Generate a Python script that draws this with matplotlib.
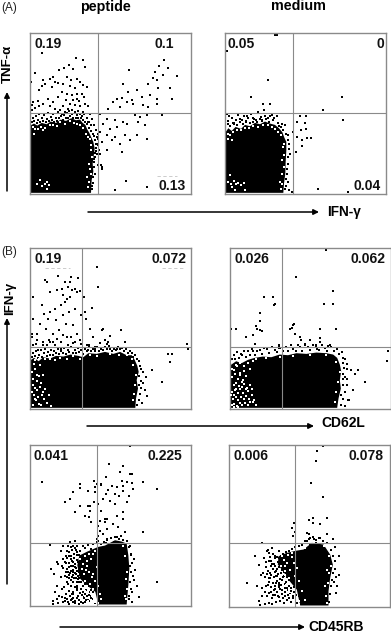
import matplotlib
matplotlib.use("Agg")
import matplotlib.pyplot as plt
from matplotlib.patches import Polygon, FancyArrowPatch

plt.rcParams['font.family'] = ['Liberation Sans', 'DejaVu Sans']
W, H = 391, 634

# Quadrant percentages
A_pep = ["0.19", "0.1", "0.13"]
A_med = ["0.05", "0", "0.04"]
B_pep = ["0.19", "0.072"]
B_med = ["0.026", "0.062"]
C_pep = ["0.041", "0.225"]
C_med = ["0.006", "0.078"]

# Dense populations: outlines (channels 0-483)
A_pep_blob = [(3,2),(3,205),(12,210),(22,204),(35,212),(50,208),(62,216),(78,212),(92,222),(108,218),(124,226),(138,220),(150,222),(158,212),(166,206),(172,192),(178,182),(184,168),(190,155),(194,135),(191,112),(188,90),(190,66),(185,40),(183,2)]
A_med_blob = [(3,2),(3,186),(10,196),(20,188),(32,200),(48,194),(60,206),(75,202),(90,212),(105,208),(120,216),(135,210),(150,206),(162,196),(172,184),(178,168),(184,155),(184,130),(182,95),(181,60),(177,30),(175,2)]
B_pep_blob = [(3,2),(3,146),(12,152),(26,142),(40,154),(60,150),(78,158),(100,156),(122,162),(145,158),(160,154),(175,166),(200,164),(225,170),(250,164),(270,170),(290,160),(305,160),(314,146),(322,128),(326,110),(320,85),(324,60),(318,30),(316,2)]
B_med_blob = [(3,2),(3,130),(20,142),(36,136),(55,146),(75,152),(100,156),(125,154),(150,162),(175,160),(200,166),(230,164),(260,168),(290,166),(310,162),(322,152),(330,132),(334,112),(330,85),(333,60),(326,30),(322,2)]
C_pep_blob = [(290,3),(205,3),(196,41),(170,61),(150,81),(142,121),(148,150),(172,162),(205,176),(225,180),(255,196),(275,192),(290,186),(295,151),(298,111),(295,61)]
C_med_blob = [(300,3),(215,3),(205,50),(184,75),(164,105),(148,125),(150,150),(175,160),(200,166),(225,170),(250,190),(285,185),(305,155),(313,125),(305,85),(300,45)]

# Individual events outside the dense populations (channels)
A_pep_pts = [(35,422),(138,407),(160,402),(165,380),(88,372),(102,378),(118,385),(130,375),(14,363),(60,345),(40,340),(35,322),(27,310),(45,330),(3,335),(70,350),(75,335),(65,320),(85,333),(110,350),(122,340),(140,345),(100,330),(120,322),(150,335),(135,318),(160,325),(170,320),(95,305),(112,300),(125,295),(140,298),(155,300),(163,290),(130,280),(140,285),(148,278),(108,280),(120,270),(100,262),(115,255),(135,265),(150,262),(165,270),(175,262),(85,290),(70,275),(55,285),(40,270),(25,278),(10,275),(5,265),(15,258),(5,250),(28,262),(60,262),(75,255),(90,250),(105,245),(125,250),(145,248),(160,245),(180,240),(185,225),(175,215),(192,205),(198,190),(203,180),(205,165),(200,150),(207,130),(212,85),(215,75),(202,120),(195,110),
 (402,402),(388,382),(415,377),(442,354),(298,372),(375,365),(370,348),(400,355),(380,340),(355,330),(385,318),(420,318),(278,330),(295,305),(320,310),(260,285),(275,287),(305,280),(335,290),(360,295),(380,285),(425,285),(248,275),(270,260),(290,275),(310,270),(340,265),(355,260),(380,270),(235,255),
 (210,240),(230,225),(255,220),(280,215),(315,235),(330,230),(350,235),(395,235),(220,210),(240,195),(260,200),(290,210),(325,215),(345,205),(210,185),(230,175),(255,170),(285,175),(320,175),(350,165),(215,155),(245,160),(270,150),(300,160),(200,170),(230,130),(275,125),(210,120),(205,85),(288,39),(255,12),(350,20),(215,80)]
A_pep_fringe = [(6,214),(9,226),(13,218),(17,232),(20,212),(25,222),(28,240),(31,216),(36,228),(40,219),(43,236),(47,214),(51,224),(55,242),(58,217),(62,230),(66,222),(70,238),(73,216),(77,228),(82,218),(85,244),(88,226),(92,233),(96,240),(99,222),(103,236),(107,226),(111,242),(114,226),(118,248),(121,232),(126,238),(130,228),(134,246),(137,226),(141,236),(145,228),(149,240),(152,226),(156,232),(160,222),(163,238),(166,216),(170,226),(172,208),(176,216),(178,198),(182,206),(184,188),(188,180),(192,172),(194,160),(197,150),(199,136),(196,122),(193,104),(191,80),(194,58),(190,32),(187,14),(186,24),(198,128),(203,145),(188,50),(192,94)]
A_med_pts = [(150,477),(155,477),(5,428),(130,342),(352,290),(293,250),(79,290),(113,270),(135,268),(225,232),(242,232),(355,220),(240,212),(215,215),(228,192),(242,195),(205,185),(215,170),(245,168),(258,167),(232,160),(232,143),(213,125),(278,13),(370,5),(202,5)]
A_med_fringe = [(5,240),(8,210),(12,232),(15,204),(20,226),(24,212),(28,208),(32,220),(36,206),(40,236),(44,214),(50,222),(54,208),(58,232),(64,214),(70,228),(74,212),(78,240),(84,216),(88,224),(92,222),(96,214),(100,245),(104,224),(108,230),(112,218),(118,252),(122,224),(128,226),(132,216),(136,232),(140,235),(144,220),(148,228),(155,232),(158,212),(162,204),(168,200),(172,210),(174,192),(180,205),(182,178),(188,175),(188,160),(192,150),(191,135),(195,120),(189,110),(190,90),(186,75),(186,60),(184,44),(190,35),(183,22),(192,10),(180,14),(10,218),(28,212),(45,224),(62,218),(85,228),(120,232),(66,232),(110,222)]
B_pep_pts = [(45,385),(50,380),(85,398),(122,395),(145,392),(105,380),(120,380),(60,350),(80,355),(95,360),(115,365),(125,355),(135,360),(150,352),(100,340),(110,330),(35,310),(10,335),(42,285),(60,290),(75,300),(92,310),(105,320),(120,335),(142,350),(10,270),(30,255),(55,270),(78,265),(98,280),(118,290),(135,300),(152,280),(20,225),(48,240),(68,225),(88,235),(108,255),(128,250),(5,225),(22,205),(40,190),(60,200),(82,210),(100,220),(122,215),(140,225),(5,215),(18,195),(38,200),(58,205),(75,190),(92,200),(112,215),(130,198),(150,205),(8,190),(25,175),(50,190),(70,200),(92,178),(115,190),(135,200),(152,195),
 (203,365),(185,302),(162,335),(165,290),(168,270),(180,240),(218,240),(240,218),(190,215),(215,235),(225,205),(235,200),(170,190),(175,175),(195,185),(230,195),(262,178),(285,200),(272,235),(200,425),(178,190),(210,197),(240,178),(195,180),(470,195),(475,180),(415,165),(425,165),(420,140),(365,115),(395,80)]
B_pep_fringe = [(6,156),(10,166),(14,158),(18,172),(23,152),(28,162),(32,176),(36,156),(41,166),(46,180),(50,158),(54,170),(60,160),(64,176),(68,162),(73,172),(78,166),(83,180),(88,164),(93,174),(98,168),(103,182),(108,164),(113,176),(118,170),(124,184),(128,168),(134,176),(138,166),(144,182),(148,170),(154,176),(160,164),(165,180),(170,172),(176,184),(182,172),(188,180),(194,174),(200,186),(206,174),(212,180),(220,176),(226,184),(232,178),(238,188),(246,172),(252,180),(258,176),(264,186),(270,178),(276,182),(282,172),(288,180),(294,168),(300,174),(306,166),(310,156),(316,160),(320,148),(326,142),(330,128),(334,118),(328,98),(332,84),(327,72),(334,62),(330,44),(326,26),(322,12),(340,110),(338,78),(345,55),(348,95),(352,38),(335,18)]
B_med_pts = [(290,476),(200,394),(130,334),(283,315),(102,335),(135,315),(92,288),(132,310),(191,252),(310,354),(310,315),(92,262),(82,240),(80,248),(320,240),(192,255),(270,212),(272,238),(181,238),(186,242),(260,185),(262,180),(90,235),(70,222),(50,215),(20,238),(96,232),(75,194),(148,192),(148,182),(195,225),(210,215),(215,205),(225,195),(240,205),(270,200),(295,188),(475,172),(472,144),(385,115),(405,80),(5,238)]
B_med_fringe = [(6,148),(12,160),(16,148),(22,170),(28,152),(34,164),(38,160),(44,174),(48,156),(54,172),(60,162),(66,178),(70,174),(76,160),(82,172),(90,176),(96,164),(104,182),(112,178),(118,166),(126,184),(135,176),(142,170),(148,186),(152,182),(160,172),(168,186),(176,172),(184,190),(190,180),(198,174),(204,192),(210,184),(218,174),(226,190),(235,186),(242,176),(250,192),(260,190),(268,176),(276,192),(285,182),(292,174),(300,190),(305,186),(312,172),(322,180),(326,164),(336,170),(338,152),(345,150),(340,138),(350,135),(342,122),(352,120),(340,105),(346,95),(338,88),(350,70),(340,72),(344,50),(334,42),(358,25),(362,115),(352,90),(338,28),(355,25),(332,12),(345,8),(370,55),(376,105)]
C_pep_pts = [(240,482),(238,425),(150,365),(175,345),(192,375),(212,365),(228,385),(245,360),(262,355),(276,375),(290,370),(150,300),(175,300),(193,310),(205,305),(218,320),(228,335),(240,315),(256,305),(268,330),(280,345),(135,280),(165,270),(180,285),(214,285),(210,255),(225,260),(260,270),(182,250),(176,265),(203,240),(210,225),(230,230),(250,245),(265,235),(280,260),(200,200),(205,210),(220,215),(232,200),(262,205),(285,220),(205,195),(228,188),(252,190),(272,210),(292,195),(180,300),(195,340),(212,362),(235,348),(255,335),(280,360),
 (300,395),(305,395),(298,330),(292,310),(280,280),(200,365),(305,368),(310,350),(340,370),(380,350),(150,352),(35,372),(195,355),(120,320),(130,340),(105,312),(300,480),(280,420),(270,400),(225,250),(232,260),(340,222),(380,70),(300,120),(302,155),(298,20),(305,40),(308,90),(300,180)]
C_pep_speckle = [(62,110),(72,95),(85,125),(92,85),(100,140),(108,100),(118,115),(130,130),(140,105),(82,60),(95,50),(110,70),(125,85),(138,95),(150,120),(75,40),(88,30),(102,55),(115,65),(130,40),(145,80),(70,15),(80,20),(95,25),(108,35),(125,20),(140,60),(155,100),(68,5),(85,8),(100,10),(118,5),(135,15),(92,165),(108,150),(122,175),(140,160),(155,140),(96,120),(115,100),(130,35),(148,70),(110,85),(125,35),(142,52),(82,130),(100,180),(120,190),(135,195),(60,182),
 (105,130),(112,142),(118,128),(124,150),(128,118),(132,142),(136,125),(141,152),(144,132),(148,108),(150,92),(146,100),(138,112),(130,100),(122,104),(116,92),(124,76),(132,82),(140,70),(148,84),(154,72),(158,60),(164,66),(152,50),(160,40),(168,48),(176,42),(184,30),(172,28),(162,22),(152,12),(144,30),(136,8),(128,12),(120,28),(112,20),(106,15),(146,18),(156,32),(166,10),(178,14),(190,20),(196,8),(205,16),(182,46),(192,52),(174,58),(166,76),(158,92),(112,165),(118,160),(126,168),(134,172),(142,178),(150,165),(158,178),(166,172),(174,182),(182,170),(190,186),(200,190),(212,186),(222,192),(232,196),(242,202),(256,206),(268,200),(280,196),(292,194),(298,176),(302,152),(306,128),(304,100),(300,72),(302,50),(298,30),(305,12),(312,140),(316,108),(312,78),(322,60),(328,25),
 (126,134),(134,116),(122,118),(128,108),(136,98),(144,90),(138,84),(130,92),(118,84),(124,60),(134,56),(142,46),(150,38),(158,26),(166,34),(174,18),(182,22),(188,40),(176,32),(168,16),(158,8),(148,6),(140,22),(130,24),(122,16),(114,10),(104,24),(116,44),(128,70),(140,138),(132,156),(124,140),(116,148),(108,128),(112,110),(106,90),(100,112),(120,98),(152,136),(146,152),(138,166),(128,178),(114,178)]
C_med_pts = [(283,478),(265,465),(262,435),(247,369),(282,328),(252,250),(252,265),(295,265),(262,185),(240,258),(196,250),(190,235),(194,210),(198,222),(245,205),(240,215),(255,202),(235,195),(295,215),(270,205),(262,190),(275,245),(235,220),(332,150),(332,95),(325,60),(322,40),(318,178),(312,200)]
C_med_speckle = [(55,70),(80,150),(105,145),(118,105),(90,125),(112,118),(128,120),(138,150),(96,95),(120,135),(142,90),(85,60),(102,100),(122,85),(142,70),(160,110),(100,30),(118,65),(135,50),(152,70),(168,55),(92,15),(108,8),(130,25),(148,30),(165,10),(178,35),(100,55),(120,40),(140,120),(158,150),(115,165),(130,175),(150,145),(100,190),(122,160),(142,105),(95,5),(165,90),(175,125),(140,145),(150,165),(118,170),
 (124,100),(132,112),(136,88),(144,112),(148,98),(152,118),(156,100),(162,88),(154,82),(146,76),(138,62),(128,58),(120,74),(112,62),(108,44),(116,30),(126,44),(134,34),(144,44),(154,52),(160,36),(170,44),(176,56),(182,62),(188,46),(194,32),(198,18),(186,14),(174,20),(164,24),(154,16),(142,14),(130,8),(120,10),(206,10),(212,30),(204,62),(196,58),(190,72),(180,80),(172,72),(166,104),(158,130),(148,132),(136,128),(126,136),(162,158),(172,162),(180,166),(190,172),(200,178),(210,180),(220,184),(228,196),(240,200),(252,206),(262,198),(274,204),(284,196),(296,190),(306,170),(312,150),(318,136),(320,112),(312,100),(310,78),(306,60),(304,36),(302,14),(322,88),(316,72),(230,172),(244,186),
 (128,94),(138,102),(146,90),(152,64),(160,78),(168,66),(178,48),(184,36),(192,24),(180,26),(170,32),(160,48),(150,58),(140,52),(132,70),(124,84),(116,96),(110,88),(130,128),(144,148),(134,156),(124,148),(112,134),(150,28),(140,34),(202,34),(196,44),(186,56),(176,88),(158,64)]

# Gaps seen through the dense populations (channels)
A_pep_gaps = [(45,28),(50,35),(52,15),(12,180),(25,195),(38,190),(60,205),(90,214),(120,218),(140,210),(168,180),(180,165),(184,130),(178,90),(172,50),(175,20),(183,60),(30,40),(36,22),(22,30),(58,25),(8,200),(16,194),(32,200),(46,196),(70,206),(82,204),(104,208),(132,212),(150,206),(160,196),(174,170),(182,145),(186,110),(180,75),(178,35)]
A_med_gaps = [(10,35),(18,28),(26,38),(32,30),(22,20),(40,32),(48,25),(58,32),(14,55),(30,12),(60,12),(10,180),(25,185),(48,190),(72,198),(100,200),(130,205),(150,195),(168,175),(175,140),(170,100),(172,60),(165,35),(168,15),(15,175),(35,190),(60,196),(85,202),(115,205),(142,200),(160,185),(178,150),(178,115),(176,80),(172,30),(8,165),(20,160)]
B_pep_gaps = [(8,70),(15,62),(22,55),(30,65),(38,50),(45,58),(12,42),(25,35),(35,42),(18,25),(28,15),(8,12),(42,28),(50,18),(10,90),(20,82),(32,78),(6,110),(16,120),(26,98),(38,100),(12,135),(60,148),(90,152),(130,158),(180,162),(240,165),(290,160),(310,130),(318,100),(315,70),(308,25),(62,8),(30,130),(14,145),(26,150),(44,148),(75,146),(110,150),(150,148),(200,158),(268,160),(306,150),(312,45),(6,50),(14,30),(20,100),(34,10),(58,40)]
B_med_gaps = [(6,10),(14,14),(22,8),(30,16),(38,10),(46,18),(54,12),(62,20),(10,28),(18,34),(26,26),(34,36),(42,28),(50,38),(58,30),(8,50),(16,56),(24,46),(32,58),(40,48),(48,60),(56,52),(12,72),(20,78),(28,68),(36,80),(44,74),(52,62),(60,70),(8,95),(16,104),(24,90),(32,100),(40,86),(6,120),(14,115),(22,128),(30,108),(70,20),(8,140),(18,132),(30,136),(42,128),(56,138),(80,148),(110,152),(150,155),(190,158),(240,160),(290,162),(320,140),(330,110),(325,80),(320,50),(316,20),(50,98),(66,42),(72,25),(14,5),(26,5),(4,40),(12,42),(20,60),(38,66),(66,58),(78,10),(44,112),(60,120),(70,142)]
C_pep_gaps = [(155,110),(162,95),(170,120),(178,100),(185,85),(165,75),(172,60),(160,125),(180,65),(190,50),(175,40),(150,140),(165,150),(182,140),(192,20),(196,10),(185,30),(175,15),(165,45),(155,25),(190,155),(196,165),(204,8),(212,20),(170,135),(160,160),(285,150),(292,100),(290,50),(288,20),(280,180),(190,95),(196,75),(205,60),(210,35),(200,115),(178,155),(168,108),(288,80),(285,30)]
C_med_gaps = [(158,120),(170,105),(180,85),(165,140),(175,130),(185,110),(190,60),(172,65),(160,150),(178,155),(195,20),(185,35),(180,50),(170,120),(200,170),(210,8),(168,95),(190,160),(300,150),(296,110),(298,70),(292,30),(302,100),(285,180),(210,15),(228,175),(190,148),(200,90),(212,75),(220,45),(230,20),(195,130),(205,115),(290,60),(306,120),(296,10)]

panels = [
    (30.0, 33, 161, 160.5, 203, 243, A_pep, (14,448), (374,448), (385,24), A_pep_blob, A_pep_pts, A_pep_fringe, A_pep_gaps),
    (225.0, 33, 161, 160.5, 203, 243, A_med, (8,448), (454,448), (384,24), A_med_blob, A_med_pts, A_med_fringe, A_med_gaps),
    (30.0, 248, 161, 160.5, 157, 186, B_pep, (14,448), (364,448), None, B_pep_blob, B_pep_pts, B_pep_fringe, B_pep_gaps),
    (229.5, 248, 161.5, 160.5, 156, 186, B_med, (16,448), (362,448), None, B_med_blob, B_med_pts, B_med_fringe, B_med_gaps),
    (30.0, 445, 161, 160.5, 202, 188, C_pep, (10,448), (354,448), None, C_pep_blob, C_pep_pts, C_pep_speckle, C_pep_gaps),
    (228.5, 445, 161, 161.5, 200, 190, C_med, (16,450), (361,450), None, C_med_blob, C_med_pts, C_med_speckle, C_med_gaps),
]

# Faint dashes printed below some of the labels: (panel index, x0, x1, y)
faint_marks = [(0, 380, 440, 52), (2, 45, 120, 422), (2, 395, 465, 423)]

fig = plt.figure(figsize=(W/100, H/100), dpi=100, facecolor='white')
GRAY = '#8a8a8a'
axes = []
for (px, py, pw, ph, qx, qy, labels, p1, p2, p3, blob, pts, dense, gaps) in panels:
    ax = fig.add_axes([px/W, 1-(py+ph)/H, pw/W, ph/H])
    axes.append(ax)
    ax.set_xlim(0, 483); ax.set_ylim(0, 482)
    ax.set_xticks([]); ax.set_yticks([])
    for s in ax.spines.values():
        s.set_color(GRAY); s.set_linewidth(1.0)
    ax.add_patch(Polygon(blob, closed=True, fc='black', ec='none', zorder=1))
    ax.scatter([p[0] for p in pts], [p[1] for p in pts], s=0.62, c='black', marker='s', linewidths=0, zorder=2)
    ax.scatter([p[0] for p in dense], [p[1] for p in dense], s=1.15, c='black', marker='s', linewidths=0, zorder=2)
    ax.scatter([p[0] for p in gaps], [p[1] for p in gaps], s=0.85, c='white', marker='s', linewidths=0, zorder=3)
    ax.axvline(qx, color=GRAY, lw=0.8, zorder=4)
    ax.axhline(qy, color=GRAY, lw=0.8, zorder=4)
    tk = dict(fontsize=10, fontweight='bold', va='center', ha='left', zorder=5, color='#111111')
    ax.text(p1[0], p1[1], labels[0], **tk)
    ax.text(p2[0], p2[1], labels[1], **tk)
    if p3 is not None:
        ax.text(p3[0], p3[1], labels[2], **tk)

for i, x0, x1, y in faint_marks:
    axes[i].plot([x0, x1], [y, y], color='#c4c4c4', lw=0.6, ls=(0, (4, 3)), zorder=2)

def T(x, y, s, **kw):
    fig.text(x/W, 1-y/H, s, **kw)

def arrow(x0, y0, x1, y1):
    fig.add_artist(FancyArrowPatch(
        (x0/W, 1-y0/H), (x1/W, 1-y1/H), transform=fig.transFigure,
        arrowstyle='-|>', mutation_scale=8, lw=1.1, color='black',
        shrinkA=0, shrinkB=0))

T(1, 8, "(A)", fontsize=8.5, va='center', ha='left', color='#222222')
T(1, 252, "(B)", fontsize=8.5, va='center', ha='left', color='#222222')
T(105, 6.5, "peptide", fontsize=10.3, fontweight='bold', va='center', ha='center')
T(298, 6.5, "medium", fontsize=10.3, fontweight='bold', va='center', ha='center')
T(7.5, 64, "TNF-α", fontsize=9.5, fontweight='bold', rotation=90, va='center', ha='center')
T(10, 298, "IFN-γ", fontsize=9.5, fontweight='bold', rotation=90, va='center', ha='center')
T(327, 212, "IFN-γ", fontsize=9.8, fontweight='bold', va='center', ha='left')
T(321, 423, "CD62L", fontsize=10, fontweight='bold', va='center', ha='left')
T(308, 627, "CD45RB", fontsize=10, fontweight='bold', va='center', ha='left')

arrow(7, 191, 7, 92)
arrow(88, 212, 319, 212)
arrow(7, 584, 7, 318)
arrow(87, 426, 314, 426)
arrow(60, 627, 305, 627)

fig.savefig("out.png", dpi=100, facecolor='white')
